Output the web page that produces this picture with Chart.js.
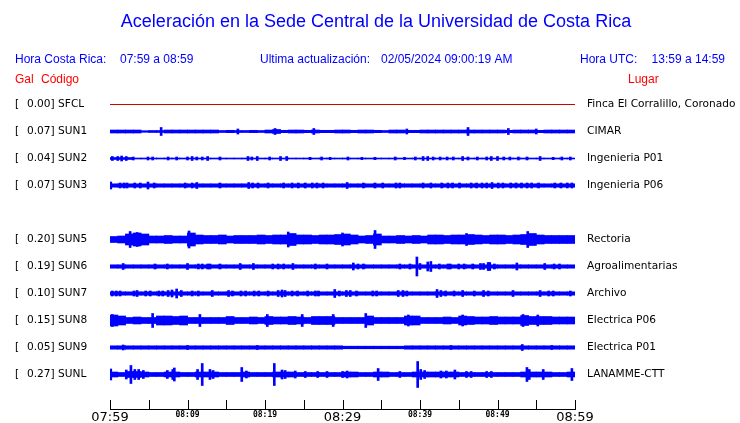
<!DOCTYPE html>
<html>
<head>
    <title>Aceleración Sede Central UCR</title>
    <script src="https://cdn.jsdelivr.net/npm/chart.js"></script>
    <style>
        body { margin: 0; background: #fff; }
    </style>
</head>
<body>
    <canvas id="myChart" width="740" height="423"></canvas>
    <script>
        // station list (SUN4 not reporting, its row stays empty)
        var codes = ['SFCL', 'SUN1', 'SUN2', 'SUN3', null, 'SUN5', 'SUN6', 'SUN7', 'SUN8', 'SUN9', 'SUNL'];
        var gal = [0.00, 0.07, 0.04, 0.07, null, 0.20, 0.19, 0.10, 0.15, 0.05, 0.27];
        var lugares = ['Finca El Corralillo, Coronado', 'CIMAR', 'Ingenieria P01', 'Ingenieria P06', null,
            'Rectoria', 'Agroalimentarias', 'Archivo', 'Electrica P06', 'Electrica P01', 'LANAMME-CTT'];

        var tickMinutes = [0, 5, 10, 15, 20, 25, 30, 35, 40, 45, 50, 55, 60];
        var tickLabels = ['07:59', '', '08:09', '', '08:19', '', '08:29', '', '08:39', '', '08:49', '', '08:59'];
        var bigLabels = ['07:59', '08:29', '08:59'];

        // trace envelope, half amplitude per minute (raw counts)
        var envSUN1 = [1.5,1.5,1.5,1.5,0.8,1,1,1.5,1.5,1.5,1.5,1.5,1.5,1.5,1,1.2,1,1,1.2,1,
            1.5,2,1.2,1.5,1.5,1.2,1.5,1.2,1.2,1.5,1.5,1.2,1.5,1.5,1.2,1,1.5,1.5,1.2,1.2,
            1.5,1.5,1.5,1.5,1.5,1.5,1.5,1.5,1.5,1.5,1.5,1.2,1.5,1.5,1.5,1.2,1.5,1.5,1.5,1.5];
        var envSUN2 = [1,1,1,0.5,0.5,0.5,0.5,0.5,0.5,0.5,0.5,0.5,0.5,0.5,0.5,0.5,0.5,0.5,0.5,0.5,
            0.5,0.5,0.5,0.5,0.5,0.5,0.5,0.5,0.5,0.5,0.5,0.5,0.5,0.5,0.5,0.5,0.5,0.5,0.5,0.5,
            0.5,0.5,0.5,0.5,0.5,0.5,0.5,0.5,0.5,0.5,0.5,0.5,0.5,0.5,0.5,0.5,0.5,0.5,0.5,0.5];
        var envSUN3 = [1.7,1.7,1.7,1.7,1.7,1.7,1.7,1.7,1.7,1.7,1.7,1.7,1.7,1.7,1.7,1.7,1.7,1.7,1.7,1.7,
            1.7,1.7,1.7,1.7,1.7,1.7,1.7,1.7,1.7,1.7,1.7,1.7,1.7,1.7,1.7,1.7,1.7,1.7,1.7,1.7,
            1.7,1.7,1.7,1.7,1.7,1.7,1.7,1.7,1.7,1.7,1.7,1.7,1.7,1.7,1.7,1.7,1.7,1.7,1.7,1.7];
        var envSUN5 = [3,3.5,5.5,6.5,5.5,3.5,3.5,4,3.5,3.5,6.5,4.5,4,4,4.5,3.5,4,4,4,4.5,
            4,4.5,4.5,6,4.5,4.5,4,4.5,4.5,5,5.5,4.5,3.5,4,5.5,3.5,3.5,4,3.5,4,
            3.5,4.5,4.5,4,4.5,4.5,5,4.5,4,4.5,4.5,4,4.5,5,6,4.5,4,4,4,4];
        var envSUN6 = [1.7,1.7,1.7,1.7,1.7,1.7,1.7,1.7,1.7,1.7,1.7,1.7,1.7,1.7,1.7,1.7,1.7,1.7,1.7,1.7,
            1.7,1.7,1.7,1.7,1.7,1.7,1.7,1.7,1.7,1.7,1.7,1.7,1.7,1.7,1.7,1.7,1.7,1.7,1.7,1.7,
            1.7,1.7,1.7,1.7,1.7,1.7,1.7,1.7,1.7,1.7,1.7,1.7,1.7,1.7,1.7,1.7,1.7,1.7,1.7,1.7];
        var envSUN7 = [1.7,1.7,1.7,1.7,1.7,1.7,1.7,1.7,1.7,1.7,1.7,1.7,1.7,1.7,1.7,1.7,1.7,1.7,1.7,1.7,
            1.7,1.7,1.7,1.7,1.7,1.7,1.7,1.7,1.7,1.7,1.7,1.7,1.7,1.7,1.7,1.7,1.7,1.7,1.7,1.7,
            1.7,1.7,1.7,1.7,1.7,1.7,1.7,1.7,1.7,1.7,1.7,1.7,1.7,1.7,1.7,1.7,1.7,1.7,1.7,1.7];
        var envSUN8 = [5.5,4.5,3,3.5,3,3,4.5,4.5,4,4.5,3,3,3,3,3,4,3,3,3.5,3,
            4,3.5,3.5,4,3.5,3,4,4,4,3,3,3,3,4.5,3,3,3,3,4.5,4.5,
            3,3,3,3.5,3,4.5,4,3.5,3.5,4,3.5,3.5,3.5,5,4,4,4,3.5,3.5,3.5];
        var envSUN9 = [1.7,1.7,1.7,1.7,1.7,1.7,1.7,1.7,1.7,1.7,1.7,1.7,1.7,1.7,1.7,1.7,1.7,1.7,1.7,1.7,
            1.7,1.7,1.7,1.7,1.7,1.7,1.7,1.7,1.7,1.7,1.3,1.3,1.3,1.3,1.3,1.3,1.3,1.3,1.7,1.7,
            1.7,1.7,1.7,1.7,1.7,1.7,1.7,1.7,1.7,1.7,1.7,1.7,1.7,1.7,1.7,1.7,1.7,1.7,1.7,1.7];
        var envSUNL = [2.5,2,3,3,2.5,2,2,2.5,2.5,2,2,2.5,2.5,2.5,2,2,2,2.5,2,2,
            2,2.5,2.5,2.5,2,2,2,2,2,2,2.5,2.5,2,2,2.5,2.5,2,2,2,2.5,
            2.5,2.5,2.5,2.5,2.5,2,2,2,2,2,2,2,2,2.5,2.5,2.5,2.5,2,2,2.5];

        // short bursts: [minute, half amplitude]
        var spkSUN1 = [[6.6,4],[16.5,2.5],[21.3,3],[26.3,3],[38.3,2.5],[46.2,4],[51.4,3],[55,2.5]];
        var spkSUN2 = [[0.3,2],[1.0,2],[1.5,2.5],[2.1,2],[3.0,1.5],[4.9,1.5],[5.5,1.5],[7.5,1.5],[8.6,1.5],
            [10.0,1.5],[10.6,2],[11.2,1.5],[11.9,1.5],[12.6,2],[14.2,1.5],[17.8,2],[18.3,1.5],[19.0,2],
            [20.6,1.5],[22.0,2],[22.8,2],[25.8,1.2],[27.3,1.5],[28.4,1.2],[30.7,1.5],[32.5,1.2],[34.2,1.2],
            [36.8,1.5],[38.0,1.2],[39.4,1.5],[40.4,2],[41.0,2],[41.7,1.5],[42.6,1.5],[43.5,1.5],[44.3,1.5],
            [45.5,2],[46.2,1.5],[47.4,1.5],[48.6,1.5],[49.2,2],[50.0,2],[50.8,1.5],[51.6,1.5],[52.7,1.5],
            [53.8,1.5],[55.5,2],[57.2,1.2],[58.3,1.5],[59.4,1.5]];
        var spkSUN3 = [[0.1,3.5],[1.3,2.5],[1.8,2.5],[2.2,2.5],[3.2,2.5],[3.9,2.5],[4.9,3.5],[5.7,2.5],[9.7,2.5],
            [10.6,2.5],[11.2,3],[14.2,2.5],[17.9,3],[18.4,2.5],[19.1,2.5],[20.4,2.5],[22.4,2.5],[23.5,2.5],
            [24.3,2.5],[25.2,2.5],[26.1,2.5],[26.7,2.5],[27.5,2.5],[30.6,3],[32.7,2.5],[34.2,2.5],[35.2,2.5],
            [36.9,2.5],[37.4,2.5],[40.4,2.5],[41.4,2.5],[42.8,2.5],[43.6,2.5],[44.2,2.5],[45.1,2.5],[46.6,2.5],
            [47.3,2.5],[48.0,2.5],[48.6,2.5],[49.3,3],[50.1,2.5],[50.7,2.5],[51.7,2.5],[52.4,2.5],[53.1,2.5],
            [53.8,2.5],[54.4,2.5],[55.3,2.5],[57.4,2.5],[58.2,2.5],[59.0,2.5],[59.6,2.5]];
        var spkSUN5 = [[2.6,8],[3.5,7],[10.2,8.5],[23.0,7.5],[30.0,6.5],[34.2,9],[46.0,6],[53.9,8]];
        var spkSUN6 = [[1.7,3],[5.8,2.5],[7.4,2.5],[10.0,3],[11.4,2.5],[11.9,2.5],[12.6,2.5],[12.9,2.5],
            [14.2,2.5],[16.8,3],[18.5,3],[21.0,2.5],[21.7,2.5],[22.4,2.5],[23.6,3],[26.5,2.5],[28.0,2.5],
            [31.4,3.5],[32.0,2.5],[32.7,2.5],[37.4,2.5],[38.7,2.5],[39.6,9.5],[40.0,3],[41.0,4.5],[41.4,5],
            [42.5,2.5],[43.6,2.5],[43.9,2.5],[45.0,2.5],[45.7,2.5],[46.8,2.5],[47.8,3],[48.2,3],[48.8,4],
            [49.0,4],[49.6,2.5],[52.5,3.5],[56.1,3],[57.3,2.5],[58.0,2.5]];
        var spkSUN7 = [[0.3,2.5],[0.8,2.5],[1.3,2.5],[3.1,2.5],[3.5,3],[4.6,2.5],[5.2,2.5],[6.3,2.5],[6.8,2.5],
            [7.5,3],[8.0,3.5],[8.6,4.5],[9.2,3],[10.6,2.5],[11.4,2.5],[13.2,3],[15.3,3],[15.8,2.5],[16.9,2.5],
            [17.5,2.5],[18.6,2.5],[19.2,2.5],[20.4,2.5],[21.7,3],[22.2,3.5],[22.6,3],[23.5,2.5],[24.2,2.5],
            [25.5,2.5],[26.5,2.5],[26.9,2.5],[29.0,4],[29.6,2.5],[30.5,3],[31.0,3],[31.8,2.5],[33.9,2.5],
            [34.4,2.5],[37.2,3],[37.8,3],[38.3,2.5],[42.2,4],[42.7,3],[43.3,2.5],[44.4,2.5],[45.5,3],[47.0,2.5],
            [48.2,3],[48.8,2.5],[52.0,3],[55.5,3],[56.6,2.5],[57.2,2.5],[59.4,2.5]];
        var spkSUN8 = [[0.3,6],[5.5,7],[11.6,6],[20.3,6],[24.8,6],[28.8,6],[33.0,7],[38.5,5.5],[45.5,5.5],
            [53.3,6],[55.2,5.5]];
        var spkSUN9 = [[1.7,2.5],[10.0,2],[19.0,2],[44.0,2],[53.2,3],[57.0,2]];
        var spkSUNL = [[0.1,5.5],[2.1,4.5],[2.7,9],[3.2,5],[3.7,5],[4.3,4],[7.4,4],[8.1,5],[8.3,6.5],[11.3,5],
            [11.9,11],[12.9,5],[13.3,4],[17.0,7],[17.6,3.5],[21.2,11],[22.2,4.5],[22.6,4],[23.9,3.5],[25.2,3],
            [26.8,3],[28.0,3],[30.0,3],[30.6,3.5],[34.6,6],[37.4,3],[39.7,13],[40.1,5],[40.6,4],[42.7,3.5],
            [43.4,3.5],[44.5,4.5],[46.0,3],[46.6,3],[48.6,3],[49.2,3],[53.8,7],[54.1,5],[55.9,5],[59.6,6]];

        var envs = [null, envSUN1, envSUN2, envSUN3, null, envSUN5, envSUN6, envSUN7, envSUN8, envSUN9, envSUNL];
        var spikes = [null, spkSUN1, spkSUN2, spkSUN3, null, spkSUN5, spkSUN6, spkSUN7, spkSUN8, spkSUN9, spkSUNL];

        var ROW_PX = 27;          // one station row in pixels
        var K = 1 / ROW_PX;       // raw counts -> row units
        var BLUE = '#0000ff';

        var datasets = [];
        // SFCL shows a flat zero trace
        datasets.push({
            type: 'line',
            data: [{ x: tickMinutes[0], y: 0 + gal[0] }, { x: tickMinutes[tickMinutes.length - 1], y: 0 + gal[0] }],
            borderColor: '#cc0000',
            borderWidth: 1,
            pointRadius: 0
        });
        envs.forEach(function (env, row) {
            if (!env) return;
            datasets.push({
                data: env.map(function (a, i) { return { x: i + 0.5, y: [row - a * K, row + a * K] }; }),
                backgroundColor: BLUE,
                barThickness: 8
            });
            datasets.push({
                data: spikes[row].map(function (s) { return { x: s[0], y: [row - s[1] * K, row + s[1] * K] }; }),
                backgroundColor: BLUE,
                barThickness: 2
            });
        });

        var textPlugin = {
            id: 'texts',
            afterDraw: function (chart) {
                var c = chart.ctx;
                var xs = chart.scales.x, ys = chart.scales.y;
                c.save();
                // upward tick marks on the time axis
                c.strokeStyle = '#000';
                c.lineWidth = 1;
                tickMinutes.forEach(function (m) {
                    var px = Math.round(xs.getPixelForValue(m)) + 0.5;
                    c.beginPath();
                    c.moveTo(px, chart.chartArea.bottom);
                    c.lineTo(px, chart.chartArea.bottom - 9);
                    c.stroke();
                });

                c.textBaseline = 'middle';
                c.fillStyle = BLUE;
                c.font = '18px "Liberation Sans", Arial, sans-serif';
                c.textAlign = 'center';
                c.fillText('Aceleración en la Sede Central de la Universidad de Costa Rica', 376, 22);

                c.textAlign = 'left';
                c.font = '12px "Liberation Sans", Arial, sans-serif';
                c.fillText('Hora Costa Rica:', 15, 60);
                c.fillText('07:59 a 08:59', 120, 60);
                c.fillText('Ultima actualización:', 260, 60);
                c.fillText('02/05/2024 09:00:19 AM', 381, 60);
                c.fillText('Hora UTC:', 580, 60);
                c.textAlign = 'right';
                c.fillText('13:59 a 14:59', 725, 60);

                c.fillStyle = '#ff0000';
                c.textAlign = 'left';
                c.fillText('Gal', 15, 80);
                c.fillText('Código', 41, 80);
                c.fillText('Lugar', 628, 80);

                c.fillStyle = '#000';
                c.font = '10.6px "DejaVu Sans", sans-serif';
                codes.forEach(function (code, row) {
                    if (!code) return;
                    var py = ys.getPixelForValue(row);
                    c.textAlign = 'left';
                    c.fillText('[', 15, py);
                    c.fillText(gal[row].toFixed(2) + '] ' + code, 27, py);
                    c.fillText(lugares[row], 587, py);
                });
                c.restore();
            }
        };

        var ctx = document.getElementById('myChart').getContext('2d');
        var myChart = new Chart(ctx, {
            type: 'bar',
            data: { datasets: datasets },
            options: {
                responsive: false,
                animation: false,
                events: [],
                grouped: false,
                layout: { padding: { left: 110, right: 165, top: 90, bottom: 0 } },
                plugins: {
                    legend: { display: false },
                    tooltip: { enabled: false }
                },
                scales: {
                    x: {
                        type: 'linear',
                        offset: false,
                        min: 0,
                        max: 60,
                        grid: { display: false, drawTicks: false, offset: false },
                        border: { display: true, color: '#000', width: 1 },
                        afterBuildTicks: function (scale) {
                            scale.ticks = tickMinutes.map(function (m) { return { value: m }; });
                        },
                        afterFit: function (scale) { scale.height = 14; },
                        ticks: {
                            autoSkip: false,
                            maxRotation: 0,
                            padding: 1,
                            color: '#000',
                            callback: function (value, index) { return tickLabels[index]; },
                            font: function (c) {
                                var lbl = tickLabels[c.index];
                                if (bigLabels.indexOf(lbl) >= 0) {
                                    return { family: '"DejaVu Sans", sans-serif', size: 13 };
                                }
                                return { family: '"DejaVu Sans Mono", monospace', size: 8, weight: 'bold' };
                            }
                        }
                    },
                    y: {
                        type: 'linear',
                        display: false,
                        reverse: true,
                        min: -0.537,
                        max: 11.278
                    }
                }
            },
            plugins: [textPlugin]
        });
    </script>
</body>
</html>
